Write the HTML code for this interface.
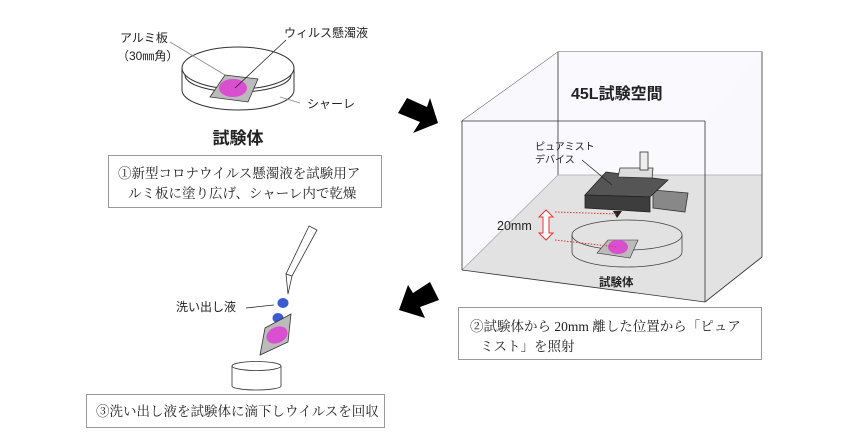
<!DOCTYPE html>
<html><head><meta charset="utf-8"><style>
html,body{margin:0;padding:0;background:#fff;}
svg{display:block;}
text{font-family:"Liberation Sans","Noto Sans CJK JP",sans-serif;fill:#222;}
.m{font-family:"Liberation Serif","Noto Serif CJK SC",serif;}
</style></head><body>
<svg width="851" height="443" viewBox="0 0 851 443" xmlns="http://www.w3.org/2000/svg">
<!-- Petri dish 1 -->
<g stroke="#333" stroke-width="1" fill="none">
<path d="M182 68 L182 90 A56 20 0 0 0 294 90 L294 68"/>
<ellipse cx="238" cy="68" rx="56" ry="21"/>
<path d="M185 75 A53 17 0 0 0 291 75" />
</g>
<polygon points="225,75 258,79 248,102 210,97" fill="#bbb" stroke="#333" stroke-width="0.8"/>
<ellipse cx="233" cy="88" rx="14" ry="9" fill="#d94fd0"/>
<line x1="170" y1="42" x2="225" y2="75" stroke="#888" stroke-width="0.8"/>
<line x1="286" y1="40" x2="235" y2="88" stroke="#222" stroke-width="0.8"/>
<line x1="280" y1="97" x2="300" y2="103" stroke="#888" stroke-width="0.8"/>
<text x="120" y="42" font-size="12">アルミ板</text>
<text x="117" y="60" font-size="12">（30㎜角）</text>
<text x="284" y="37" font-size="12">ウィルス懸濁液</text>
<text x="307" y="108" font-size="12">シャーレ</text>
<text x="238" y="144" font-size="17" font-weight="bold" text-anchor="middle">試験体</text>
<rect x="108.5" y="155.5" width="273" height="52" fill="none" stroke="#999"/>
<text class="m" x="118" y="178" font-size="13.5">①新型コロナウイルス懸濁液を試験用ア</text>
<text class="m" x="128" y="198" font-size="13.5">ルミ板に塗り広げ、シャーレ内で乾燥</text>

<!-- arrows -->
<polygon points="398,113 407,98 427,107 430,98 438,123 413,133 420,122" fill="#000"/>
<polygon points="399,310 408,285 413,293 430,282 439,300 420,307 425,318" fill="#000"/>

<!-- 3D box -->
<polygon points="462,121 558,52 762,52 705,121" fill="#e6e8f5" stroke="#333" stroke-width="0.8"/>
<polygon points="558,52 762,52 762,175 558,175" fill="#fafafe"/>
<polygon points="462,121 558,52 558,175 462,270" fill="#f8f8fd"/>
<polygon points="705,121 762,52 762,257 705,302" fill="#f8f8fd"/>
<polygon points="462,270 558,175 762,175 762,257 705,302" fill="#e2e2e2"/>
<g stroke="#333" stroke-width="0.8" fill="none">
<line x1="558" y1="52" x2="558" y2="175"/>
<line x1="558" y1="175" x2="762" y2="175" stroke="#aaa"/>
<line x1="558" y1="175" x2="462" y2="270" stroke="#aaa"/>
<line x1="762" y1="52" x2="762" y2="257"/>
<line x1="705" y1="302" x2="762" y2="257"/>
<line x1="462" y1="121" x2="462" y2="270"/>
<line x1="705" y1="121" x2="705" y2="302"/>
<line x1="462" y1="270" x2="705" y2="302"/>
<line x1="462" y1="121" x2="705" y2="121"/>
</g>
<text x="571" y="99" font-size="16" font-weight="bold">45L試験空間</text>
<!-- device -->
<polygon points="653,190 688,193 685,212 653,208" fill="#888" stroke="#333" stroke-width="0.8"/>
<polygon points="606,172 668,180 650,197 585,195" fill="#555" stroke="#222" stroke-width="0.8"/>
<polygon points="585,195 650,197 650,212 585,208" fill="#3d3d3d" stroke="#222" stroke-width="0.8"/>
<polygon points="620,168 653,168 652,178 618,177" fill="#ddd" stroke="#333" stroke-width="0.8"/>
<rect x="640" y="152" width="8" height="18" fill="#eee" stroke="#333" stroke-width="0.8"/>
<polygon points="613,211 622,211 617,218" fill="#222"/>
<text x="535" y="150" font-size="10">ピュアミスト</text>
<text x="535" y="163" font-size="10">デバイス</text>
<line x1="582" y1="160" x2="612" y2="185" stroke="#222" stroke-width="0.8"/>
<!-- dish 2 -->
<path d="M572 235 L572 252 A55 15 0 0 0 682 252 L682 235" fill="none" stroke="#444" stroke-width="0.8"/>
<ellipse cx="627" cy="235" rx="55" ry="15" fill="none" stroke="#444" stroke-width="0.8"/>
<polygon points="608,240 638,240 630,258 597,253" fill="#bbb" stroke="#333" stroke-width="0.6"/>
<ellipse cx="618" cy="247" rx="10" ry="7" fill="#d94fd0"/>
<line x1="555" y1="212" x2="618" y2="214" stroke="#e33" stroke-width="1" stroke-dasharray="1.5,1.5"/>
<line x1="555" y1="240" x2="617" y2="247" stroke="#e33" stroke-width="1" stroke-dasharray="1.5,1.5"/>
<polygon points="546,210 553,217 549,217 549,233 553,233 546,240 539,233 543,233 543,217 539,217" fill="#fff" stroke="#e33" stroke-width="1"/>
<text x="497" y="230" font-size="12.5">20mm</text>
<text x="599" y="286" font-size="11.5" font-weight="bold">試験体</text>
<rect x="458.5" y="307.5" width="303" height="52" fill="none" stroke="#999"/>
<text class="m" x="470" y="331" font-size="13.5">②試験体から 20mm 離した位置から「ピュア</text>
<text class="m" x="480" y="351" font-size="13.5">ミスト」を照射</text>

<!-- step 3 -->
<polygon points="309,226 317,230 292,276 286,274" fill="#fff" stroke="#333" stroke-width="0.8"/>
<polygon points="286,274 292,276 288,294" fill="#fff" stroke="#333" stroke-width="0.8"/>
<ellipse cx="283" cy="303" rx="5.5" ry="5" fill="#3b5bd0"/>
<ellipse cx="278" cy="318" rx="5.5" ry="5" fill="#3b5bd0"/>
<polygon points="265,328 291,314 288,342 260,355" fill="#bbb" stroke="#333" stroke-width="0.8"/>
<ellipse cx="277" cy="335" rx="11" ry="8" fill="#d94fd0" transform="rotate(-25 277 335)"/>
<line x1="246" y1="308" x2="274" y2="305" stroke="#222" stroke-width="0.8"/>
<text x="176" y="311" font-size="12">洗い出し液</text>
<path d="M232 366 L232 386 A24.5 4 0 0 0 281 386 L281 366" fill="#fff" stroke="#333" stroke-width="0.8"/>
<ellipse cx="256.5" cy="366" rx="24.5" ry="4.5" fill="#fff" stroke="#333" stroke-width="0.8"/>
<rect x="86.5" y="394.5" width="298" height="33" fill="none" stroke="#999"/>
<text class="m" x="96" y="416" font-size="13.5">③洗い出し液を試験体に滴下しウイルスを回収</text>
</svg>
</body></html>
